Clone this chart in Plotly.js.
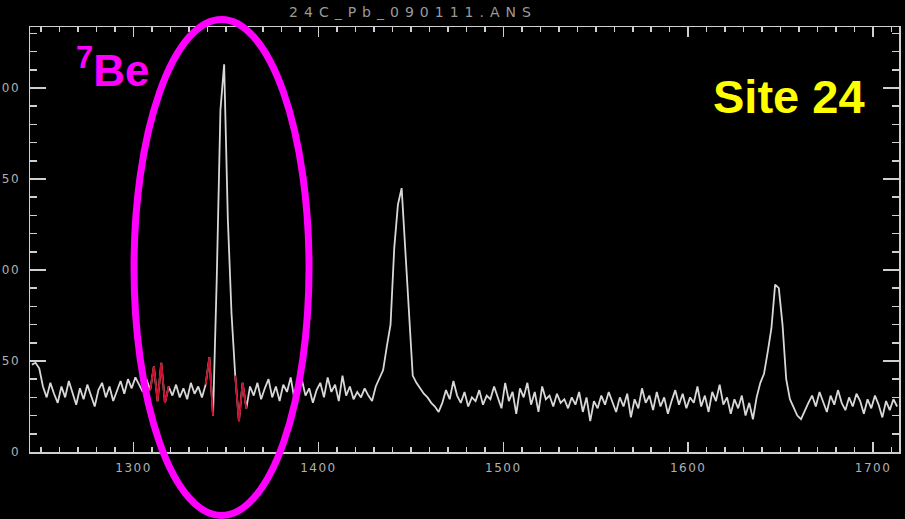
<!DOCTYPE html>
<html><head><meta charset="utf-8">
<script src="https://cdn.plot.ly/plotly-3.0.1.min.js"></script>
<style>
html,body{margin:0;padding:0;background:#000;}
#chart{width:905px;height:519px;}
.gtitle{letter-spacing:6px;}
.xtick text,.ytick text{letter-spacing:1.5px;}
</style></head><body><div id="chart"></div>
<script>
const chartTitle = "24C_Pb_090111.ANS";
const firstChannel = 1245;
const channelStep = 2;
const counts = [
  48,49,46,36,30,38,32,27,36,30,
  39,33,26,35,29,37,31,25,34,38,
  30,36,28,34,39,32,40,35,41,37,
  33,40,34,47,28,49,27,36,31,37,
  30,35,29,38,32,36,30,37,52,20,
  95,188,213,128,76,42,17,38,24,36,
  31,38,29,35,40,30,36,28,37,33,
  41,29,36,40,31,35,27,34,38,30,
  41,33,37,28,42,31,36,29,33,30,
  35,31,28,36,41,45,58,70,112,136,
  145,110,72,42,38,35,32,30,27,25,
  22,27,34,29,39,31,27,33,25,30,
  28,34,26,31,29,36,30,24,38,28,
  33,21,35,30,38,26,33,22,36,29,
  31,25,32,27,29,24,30,26,33,22,
  30,17,28,24,31,26,33,27,22,30,
  25,32,19,29,24,35,27,31,23,33,
  25,30,21,28,34,26,32,24,30,27,
  36,25,31,22,33,28,37,26,30,21,
  29,24,31,20,27,18,30,38,43,55,
  68,92,90,70,40,29,24,20,18,23,
  27,31,25,33,28,22,31,26,34,27,
  23,30,25,32,28,21,29,24,31,26,
  19,28,23,29,25
];
const redRanges = [[1309,1319],[1339,1343],[1355,1361]];
const xRange = [1244, 1714];
const yRange = [0, 233.5];
const xTickVals = [1300,1400,1500,1600,1700];
const yTickVals = [0,50,100,150,200];
const yTickText = ["0","50","100","150","200"];
const peakLabel = "<sup>7</sup>Be";
const siteLabel = "Site 24";

const channels = counts.map((_, i) => firstChannel + i * channelStep);

const traces = [{
  x: channels, y: counts, type: 'scatter', mode: 'lines',
  line: {color: '#d8d8d8', width: 1.8}
}];
redRanges.forEach(r => {
  const xs = [], ys = [];
  channels.forEach((c, i) => { if (c >= r[0] && c <= r[1]) { xs.push(c); ys.push(counts[i]); } });
  traces.push({x: xs, y: ys, type: 'scatter', mode: 'lines', line: {color: '#c4102c', width: 1.9}});
});

const axisCommon = {
  showgrid: false, zeroline: false, showline: true, linecolor: '#cfcfcf', linewidth: 1.5,
  mirror: 'ticks', ticks: 'inside', tickcolor: '#cfcfcf', tickwidth: 1.5,
  tickfont: {family: 'DejaVu Sans', size: 12, color: '#b0b0b0'}, fixedrange: true
};

const layout = {
  width: 905, height: 519,
  paper_bgcolor: '#000', plot_bgcolor: '#000',
  margin: {l: 30, r: 6, t: 27, b: 67},
  showlegend: false, hovermode: false,
  title: {text: chartTitle, font: {family: 'DejaVu Sans', size: 14, color: '#9a9a9a'},
          x: 0.4407, xref: 'paper', xanchor: 'center', y: 1 - 12/519, yref: 'container', yanchor: 'middle'},
  xaxis: Object.assign({}, axisCommon, {
    range: xRange, tickmode: 'array', tickvals: xTickVals, ticklen: 10, ticklabelstandoff: 4,
    minor: {tick0: 1300, dtick: 10, ticks: 'inside', ticklen: 5, tickcolor: '#cfcfcf', tickwidth: 1.5}
  }),
  yaxis: Object.assign({}, axisCommon, {
    range: yRange, tickmode: 'array', tickvals: yTickVals, ticktext: yTickText, ticklen: 16, ticklabelstandoff: 6,
    minor: {tick0: 0, dtick: 10, ticks: 'inside', ticklen: 7, tickcolor: '#cfcfcf', tickwidth: 1.5}
  }),
  shapes: [{
    type: 'circle', xref: 'paper', yref: 'paper',
    x0: 0.1197, x1: 0.3211, y0: -0.1494, y1: 1.0176,
    line: {color: '#ff00ff', width: 7}
  }],
  annotations: [
    {text: peakLabel, xref: 'paper', yref: 'paper', x: 0.0944, y: 0.904, xanchor: 'center', yanchor: 'middle',
     showarrow: false, font: {family: 'Liberation Sans', size: 44, color: '#ff00ff', weight: 'bold'}},
    {text: siteLabel, xref: 'paper', yref: 'paper', x: 0.8734, y: 0.836, xanchor: 'center', yanchor: 'middle',
     showarrow: false, font: {family: 'Liberation Sans', size: 47, color: '#ffff00', weight: 'bold'}}
  ]
};

Plotly.newPlot('chart', traces, layout, {staticPlot: true, displayModeBar: false});
</script></body></html>
